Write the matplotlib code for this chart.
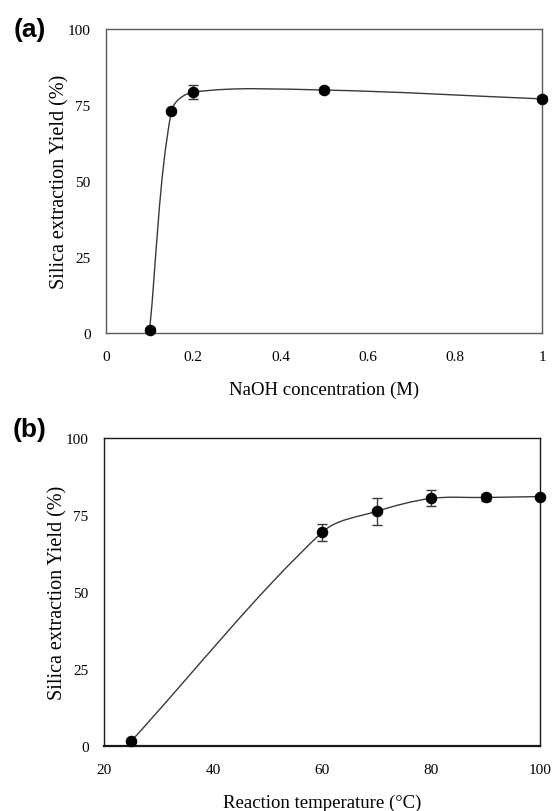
import numpy as np
import matplotlib
matplotlib.use("Agg")
import matplotlib.pyplot as plt
from matplotlib.path import Path
from matplotlib.patches import PathPatch

# panel (a): NaOH concentration
naoh_conc = [0.1, 0.15, 0.2, 0.5, 1.0]
naoh_yield = [1.0, 73.0, 79.2, 79.9, 77.0]
naoh_err = [0.6, 0.6, 2.4, 1.0, 0.8]

# panel (b): reaction temperature
temp_c = [25, 60, 70, 80, 90, 100]
temp_yield = [1.6, 69.4, 76.2, 80.4, 80.7, 81.0]
temp_err = [0.5, 2.8, 4.4, 2.6, 1.0, 0.5]

plt.rcParams['font.family'] = ['Liberation Serif', 'DejaVu Serif']

LINE_COL = '#3a3a3a'


def smooth_path(ax, xs, ys, xlim, ylim):
    # smoothed line like a spreadsheet chart: bezier segments whose control
    # points follow the neighbour direction, weighted by segment length
    bbox = ax.get_position()
    fig_w, fig_h = ax.figure.get_size_inches()
    sx = bbox.width * fig_w / (xlim[1] - xlim[0])
    sy = bbox.height * fig_h / (ylim[1] - ylim[0])
    p = np.column_stack([(np.array(xs) - xlim[0]) * sx,
                         (np.array(ys) - ylim[0]) * sy])
    ext = np.vstack([p[0], p, p[-1]])
    seg = np.linalg.norm(np.diff(ext, axis=0), axis=1)
    verts = [p[0]]
    codes = [Path.MOVETO]
    for i in range(len(p) - 1):
        p0, p1, p2, p3 = ext[i], ext[i + 1], ext[i + 2], ext[i + 3]
        l01, l12, l23 = seg[i], seg[i + 1], seg[i + 2]
        c1 = p1 + (p2 - p0) * l12 / (l01 + l12) / 3.0
        c2 = p2 - (p3 - p1) * l12 / (l12 + l23) / 3.0
        verts += [c1, c2, p2]
        codes += [Path.CURVE4] * 3
    verts = np.array(verts)
    verts[:, 0] = verts[:, 0] / sx + xlim[0]
    verts[:, 1] = verts[:, 1] / sy + ylim[0]
    patch = PathPatch(Path(verts, codes), fill=False, edgecolor=LINE_COL,
                      lw=1.0, transform=ax.transData, zorder=2)
    ax.add_patch(patch)


def style_axes(ax, spine_col):
    for s in ax.spines.values():
        s.set_color(spine_col)
        s.set_linewidth(1.0)
    ax.tick_params(length=0, labelsize=11, colors='black')
    ax.tick_params(axis='x', pad=12)
    ax.tick_params(axis='y', pad=11)


fig = plt.figure(figsize=(5.52, 8.12), dpi=100)

ax1 = fig.add_axes([0.192, 0.5887, 0.790, 0.3744])
ax1.set_xlim(0, 1)
ax1.set_ylim(0, 100)
ax1.set_xticks([0, 0.2, 0.4, 0.6, 0.8, 1])
ax1.set_xticklabels(['0', '0.2', '0.4', '0.6', '0.8', '1'])
ax1.set_yticks([0, 25, 50, 75, 100])
style_axes(ax1, '#5a5a5a')
smooth_path(ax1, naoh_conc, naoh_yield, (0, 1), (0, 100))
ax1.errorbar(naoh_conc, naoh_yield, yerr=naoh_err, fmt='o', color='black',
             ms=7.3, ecolor=LINE_COL, elinewidth=1, capsize=3.5, capthick=1,
             zorder=3, clip_on=False)
ax1.set_xlabel('NaOH concentration (M)', fontsize=13.5, labelpad=13)
ax1.set_ylabel('Silica extraction Yield (%)', fontsize=14.5, labelpad=-1)
fig.text(0.054, 0.963, '(a)', fontsize=19, fontweight='bold',
         family='Liberation Sans', ha='center', va='center')

ax2 = fig.add_axes([0.1884, 0.080, 0.790, 0.3793])
ax2.set_xlim(20, 100)
ax2.set_ylim(0, 100)
ax2.set_xticks([20, 40, 60, 80, 100])
ax2.set_yticks([0, 25, 50, 75, 100])
style_axes(ax2, '#1a1a1a')
ax2.spines['bottom'].set_linewidth(1.6)
smooth_path(ax2, temp_c, temp_yield, (20, 100), (0, 100))
ax2.errorbar(temp_c, temp_yield, yerr=temp_err, fmt='o', color='black',
             ms=7.3, ecolor=LINE_COL, elinewidth=1, capsize=3.5, capthick=1,
             zorder=3, clip_on=False)
ax2.set_xlabel('Reaction temperature (\u00b0C)', fontsize=13.5, labelpad=13)
ax2.set_ylabel('Silica extraction Yield (%)', fontsize=14.5, labelpad=-1)
fig.text(0.054, 0.470, '(b)', fontsize=19, fontweight='bold',
         family='Liberation Sans', ha='center', va='center')

fig.savefig('out.png', dpi=100)
